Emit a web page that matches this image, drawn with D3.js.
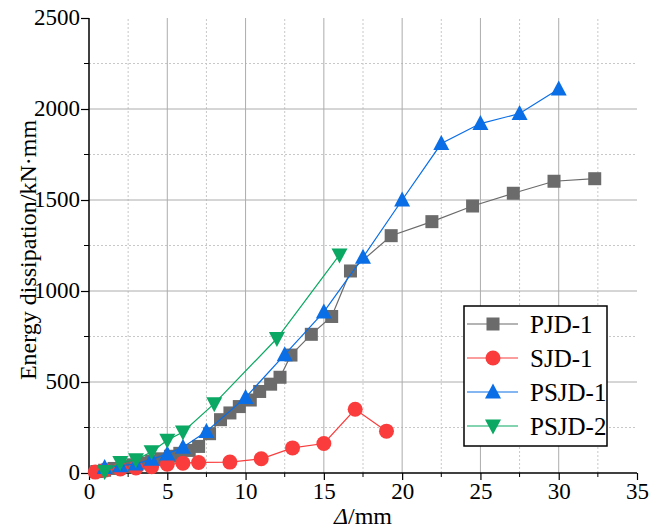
<!DOCTYPE html>
<html lang="en">
<head>
  <meta charset="UTF-8">
  <title>Energy dissipation</title>
  <script src="https://d3js.org/d3.v7.min.js"></script>
  <style>
    body {
      margin: 0;
      padding: 0;
      background: #fff;
    }
    svg text {
      font-family: "Liberation Serif", "Times New Roman", serif;
      fill: #000;
    }
  </style>
</head>
<body>
  <div id="vis"></div>

  <script>
    // series values
    const pjd1X = [0.5, 1.0, 1.6, 2.2, 2.8, 3.4, 4.0, 4.6, 5.2, 5.8, 6.4, 7.0, 7.7, 8.4, 9.0, 9.6, 10.3, 10.9, 11.6, 12.2, 12.9, 14.2, 15.5, 16.7, 19.3, 21.9, 24.5, 27.1, 29.7, 32.3];
    const pjd1Y = [8, 15, 25, 35, 45, 55, 65, 78, 92, 108, 124, 146, 216, 293, 330, 365, 401, 448, 488, 526, 648, 762, 860, 1110, 1304, 1381, 1467, 1537, 1603, 1617];

    const sjd1X = [0.4, 1, 2, 3, 4, 5, 6, 7, 9, 11, 13, 15, 17, 19];
    const sjd1Y = [5, 15, 22, 28, 35, 48, 54, 58, 60, 78, 138, 162, 350, 230];

    const psjd1X = [1, 2, 3, 4, 5, 6, 7.5, 10, 12.5, 15, 17.5, 20, 22.5, 25, 27.5, 30];
    const psjd1Y = [30, 40, 50, 75, 105, 142, 228, 415, 650, 885, 1185, 1500, 1810, 1920, 1975, 2110];

    const psjd2X = [1, 2, 3, 4, 5, 6, 8, 12, 16];
    const psjd2Y = [8, 58, 73, 117, 180, 225, 381, 739, 1198];

    const seriesNames = ["PJD-1", "SJD-1", "PSJD-1", "PSJD-2"];
    const seriesColors = ["#6b6b6b", "#fa3c3c", "#0a6ee6", "#0aa862"];
    const seriesSymbols = ["square", "circle", "up", "down"];

    const xTicks = [0, 5, 10, 15, 20, 25, 30, 35];
    const yTicks = [0, 500, 1000, 1500, 2000, 2500];

    const serif = '"Liberation Serif", "Times New Roman", serif';
    const width = 649, height = 528;
    const margin = { left: 89, right: 12, top: 18, bottom: 55 };

    const svg = d3.select("#vis").append("svg")
      .attr("width", width)
      .attr("height", height);

    const x = d3.scaleLinear().domain([0, 35]).range([margin.left, width - margin.right]);
    const y = d3.scaleLinear().domain([0, 2500]).range([height - margin.bottom, margin.top]);

    const xMinor = d3.range(2.5, 35, 5);
    const yMinor = d3.range(250, 2500, 500);

    // grid
    const grid = svg.append("g");
    grid.selectAll("line.xminor").data(xMinor).enter().append("line")
      .attr("x1", d => x(d)).attr("x2", d => x(d))
      .attr("y1", y(0)).attr("y2", y(2500))
      .attr("stroke", "#c8c8c8").attr("stroke-dasharray", "2,2");
    grid.selectAll("line.yminor").data(yMinor).enter().append("line")
      .attr("x1", x(0)).attr("x2", x(35))
      .attr("y1", d => y(d)).attr("y2", d => y(d))
      .attr("stroke", "#c8c8c8").attr("stroke-dasharray", "2,2");
    grid.selectAll("line.xmajor").data(xTicks.slice(1, -1)).enter().append("line")
      .attr("x1", d => x(d)).attr("x2", d => x(d))
      .attr("y1", y(0)).attr("y2", y(2500))
      .attr("stroke", "#acacac");
    grid.selectAll("line.ymajor").data(yTicks.slice(1, -1)).enter().append("line")
      .attr("x1", x(0)).attr("x2", x(35))
      .attr("y1", d => y(d)).attr("y2", d => y(d))
      .attr("stroke", "#acacac");

    // axes
    const xAxis = svg.append("g")
      .attr("transform", `translate(0,${y(0)})`)
      .call(d3.axisBottom(x).tickValues(xTicks).tickSize(7).tickPadding(3).tickFormat(d3.format("d")));
    xAxis.append("g").selectAll("line").data(xMinor).enter().append("line")
      .attr("x1", d => x(d)).attr("x2", d => x(d))
      .attr("y1", 0).attr("y2", 4).attr("stroke", "#000");

    const yAxis = svg.append("g")
      .attr("transform", `translate(${x(0)},0)`)
      .call(d3.axisLeft(y).tickValues(yTicks).tickSize(8).tickPadding(1).tickFormat(d3.format("d")));
    yAxis.append("g").selectAll("line").data(yMinor).enter().append("line")
      .attr("x1", 0).attr("x2", -5)
      .attr("y1", d => y(d)).attr("y2", d => y(d)).attr("stroke", "#000");

    [xAxis, yAxis].forEach(a => {
      a.attr("font-family", serif);
      a.select(".domain").attr("stroke", "#000").attr("stroke-width", 1.5);
      a.selectAll(".tick line").attr("stroke", "#000").attr("stroke-width", 1.2);
      a.selectAll("text").style("font-size", "23px").style("font-family", serif);
    });
    xAxis.select(".domain").attr("d", `M${x(0)},0H${x(35)}`);
    yAxis.select(".domain").attr("d", `M0,${y(0)}V${y(2500)}`);
    yAxis.selectAll(".tick text").attr("dy", "0.3em");

    // axis titles
    svg.append("text")
      .attr("transform", `translate(36,${y(0) - 223}) rotate(-90)`)
      .attr("text-anchor", "middle")
      .style("font-size", "24px")
      .text("Energy dissipation/kN·mm");

    const xTitle = svg.append("text")
      .attr("x", x(0) + 274)
      .attr("y", 524)
      .attr("text-anchor", "middle")
      .style("font-size", "24px");
    xTitle.append("tspan").style("font-style", "italic").text("Δ");
    xTitle.append("tspan").text("/mm");

    // markers
    function marker(sel, symbol, color) {
      if (symbol === "square") {
        sel.append("rect").attr("x", -6.5).attr("y", -6.5).attr("width", 13).attr("height", 13).attr("fill", color);
      } else if (symbol === "circle") {
        sel.append("circle").attr("r", 7.5).attr("fill", color);
      } else if (symbol === "up") {
        sel.append("path").attr("d", "M0,-8.5L8,6.5L-8,6.5Z").attr("fill", color);
      } else {
        sel.append("path").attr("d", "M0,8.5L8,-6.5L-8,-6.5Z").attr("fill", color);
      }
    }

    const allX = [pjd1X, sjd1X, psjd1X, psjd2X];
    const allY = [pjd1Y, sjd1Y, psjd1Y, psjd2Y];
    const series = seriesNames.map((name, i) => ({
      name,
      color: seriesColors[i],
      symbol: seriesSymbols[i],
      points: allX[i].map((v, j) => [v, allY[i][j]])
    }));

    const line = d3.line().x(d => x(d[0])).y(d => y(d[1]));

    series.forEach(s => {
      const g = svg.append("g");
      g.append("path")
        .attr("d", line(s.points))
        .attr("fill", "none")
        .attr("stroke", s.color)
        .attr("stroke-width", 1.2);
      g.selectAll("g.pt").data(s.points).enter().append("g")
        .attr("transform", d => `translate(${x(d[0])},${y(d[1])})`)
        .each(function () { marker(d3.select(this), s.symbol, s.color); });
    });

    // legend
    const legend = svg.append("g").attr("transform", "translate(464,306)");
    legend.append("rect")
      .attr("width", 143).attr("height", 140)
      .attr("fill", "#fff").attr("stroke", "#000").attr("stroke-width", 1.5);
    series.forEach((s, i) => {
      const row = legend.append("g").attr("transform", `translate(0,${18 + i * 34})`);
      row.append("line").attr("x1", 3).attr("x2", 54).attr("stroke", s.color).attr("stroke-width", 1.2);
      marker(row.append("g").attr("transform", "translate(29,0)"), s.symbol, s.color);
      row.append("text").attr("x", 66).attr("y", 9).style("font-size", "25px").text(s.name);
    });
  </script>
</body>
</html>
